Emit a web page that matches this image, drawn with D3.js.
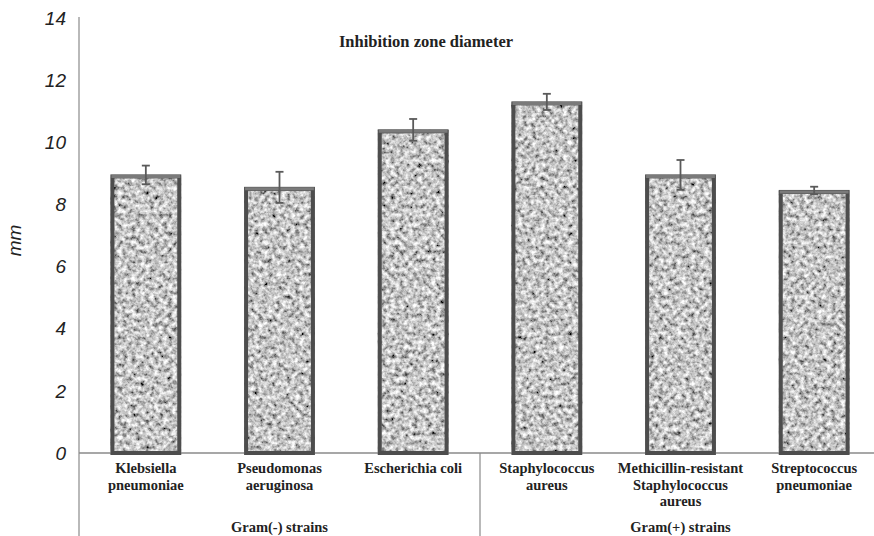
<!DOCTYPE html>
<html><head><meta charset="utf-8">
<script src="https://cdn.jsdelivr.net/npm/d3@7"></script>
<style>html,body{margin:0;padding:0;background:#fff;}</style>
</head><body>
<script>
const categories = [
  ["Klebsiella", "pneumoniae"],
  ["Pseudomonas", "aeruginosa"],
  ["Escherichia coli"],
  ["Staphylococcus", "aureus"],
  ["Methicillin-resistant", "Staphylococcus", "aureus"],
  ["Streptococcus", "pneumoniae"]
];
const values = [8.95, 8.55, 10.4, 11.3, 8.95, 8.45];
const errors = [0.3, 0.5, 0.35, 0.26, 0.48, 0.12];
const groups = [
  {label: "Gram(-) strains", start: 0, end: 3},
  {label: "Gram(+) strains", start: 3, end: 6}
];
const yTicks = [0, 2, 4, 6, 8, 10, 12, 14];
const title = "Inhibition zone diameter";
const yLabel = "mm";

const W = 874, H = 536;
const svg = d3.select("body").append("svg").attr("width", W).attr("height", H);
const defs = svg.append("defs");
const f = defs.append("filter").attr("id", "speckle")
  .attr("x", 0).attr("y", 0).attr("width", 1).attr("height", 1);
f.append("feTurbulence").attr("type", "fractalNoise").attr("baseFrequency", 0.22)
  .attr("numOctaves", 3).attr("seed", 7).attr("result", "noise");
f.append("feColorMatrix").attr("in", "noise").attr("type", "matrix")
  .attr("values", "1.6 0 0 0 -0.24  1.6 0 0 0 -0.24  1.6 0 0 0 -0.24  0 0 0 0 1")
  .attr("result", "gray");
f.append("feComposite").attr("in", "gray").attr("in2", "SourceGraphic").attr("operator", "in");

const x = d3.scaleBand().domain(d3.range(categories.length)).range([79, 881]).paddingInner(0.47).paddingOuter(0.235);
const y = d3.scaleLinear().domain([0, 14]).range([453, 18]);
const step = x.step();
const x0 = 79;

// axes lines
svg.append("line").attr("x1", x0).attr("x2", x0).attr("y1", y(14) - 1).attr("y2", H)
  .attr("stroke", "#8a8a8a").attr("stroke-width", 1.2);
svg.append("line").attr("x1", x0).attr("x2", W).attr("y1", y(0)).attr("y2", y(0))
  .attr("stroke", "#8a8a8a").attr("stroke-width", 1.5);
groups.slice(1).forEach(g => {
  const gx = x0 + g.start * step;
  svg.append("line").attr("x1", gx).attr("x2", gx).attr("y1", y(0)).attr("y2", H)
    .attr("stroke", "#8a8a8a").attr("stroke-width", 1.2);
});

// y tick labels
svg.append("g").selectAll("text").data(yTicks).join("text")
  .attr("x", 66).attr("y", d => y(d)).attr("dy", "0.35em")
  .attr("text-anchor", "end")
  .attr("font-family", "Liberation Sans, Arial, sans-serif").attr("font-style", "italic")
  .attr("font-size", 19).attr("fill", "#222").text(d => d);

svg.append("text").attr("transform", `translate(21,${y(7) + 5}) rotate(-90)`)
  .attr("text-anchor", "middle")
  .attr("font-family", "Liberation Sans, Arial, sans-serif").attr("font-style", "italic")
  .attr("font-size", 19).attr("fill", "#222").text(yLabel);

const serif = "Liberation Serif, DejaVu Serif, serif";
// title
svg.append("text").attr("x", 426).attr("y", 47).attr("text-anchor", "middle")
  .attr("font-family", serif).attr("font-weight", "bold")
  .attr("font-size", 16.5).attr("fill", "#222").text(title);

// bars
const bars = svg.append("g").selectAll("g").data(values).join("g");
bars.append("rect")
  .attr("x", (d, i) => x(i)).attr("y", d => y(d))
  .attr("width", x.bandwidth()).attr("height", d => y(0) - y(d))
  .attr("fill", "#000").attr("filter", "url(#speckle)");
bars.append("rect")
  .attr("x", (d, i) => x(i) + 2).attr("y", d => y(d) + 1.5)
  .attr("width", x.bandwidth() - 4).attr("height", d => y(0) - y(d) - 1.5)
  .attr("fill", "none").attr("stroke", "#4d4d4d").attr("stroke-width", 4);
bars.append("line")
  .attr("x1", (d, i) => x(i) + 1).attr("x2", (d, i) => x(i) + x.bandwidth() - 1)
  .attr("y1", d => y(d) + 1.5).attr("y2", d => y(d) + 1.5)
  .attr("stroke", "#7a7a7a").attr("stroke-width", 3);

// error bars
const eb = svg.append("g").selectAll("g").data(values).join("g")
  .attr("stroke", "#5a5a5a").attr("stroke-width", 1.8);
eb.append("line")
  .attr("x1", (d, i) => x(i) + x.bandwidth() / 2).attr("x2", (d, i) => x(i) + x.bandwidth() / 2)
  .attr("y1", (d, i) => y(d + errors[i])).attr("y2", (d, i) => y(d - errors[i]));
[1, -1].forEach(s => {
  eb.append("line")
    .attr("x1", (d, i) => x(i) + x.bandwidth() / 2 - 4).attr("x2", (d, i) => x(i) + x.bandwidth() / 2 + 4)
    .attr("y1", (d, i) => y(d + s * errors[i])).attr("y2", (d, i) => y(d + s * errors[i]));
});

// category labels
categories.forEach((lines, i) => {
  const t = svg.append("text").attr("text-anchor", "middle")
    .attr("font-family", serif).attr("font-weight", "bold").attr("font-size", 14.5).attr("fill", "#222");
  lines.forEach((ln, k) => {
    t.append("tspan").attr("x", x(i) + x.bandwidth() / 2).attr("y", 473 + k * 16.5).text(ln);
  });
});
groups.forEach(g => {
  svg.append("text").attr("x", x0 + (g.start + g.end) / 2 * step).attr("y", 532)
    .attr("text-anchor", "middle").attr("font-family", serif).attr("font-weight", "bold")
    .attr("font-size", 14.5).attr("fill", "#222").text(g.label);
});
</script>
</body></html>
